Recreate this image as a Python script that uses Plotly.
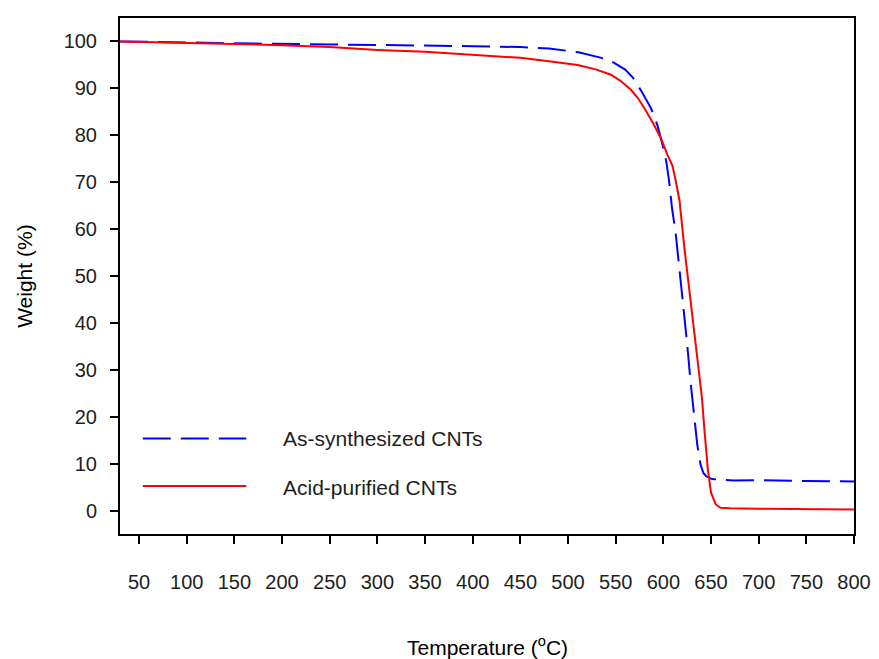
import plotly.graph_objects as go

# As-synthesized CNTs (blue dashed)
temp_as = [30, 50, 100, 150, 200, 250, 300, 350, 400, 450, 480, 511, 535, 548, 560, 568,
           577, 587, 594, 599, 603, 606, 609, 613, 617, 621, 625, 628.5, 632, 635.6, 639,
           642, 645, 651, 674, 700, 750, 800]
weight_as = [100, 99.9, 99.8, 99.6, 99.5, 99.4, 99.3, 99.2, 99.0, 98.8, 98.5, 97.7, 96.5,
             95.5, 94.0, 92.3, 89.4, 85.8, 82.0, 78.1, 74.5, 70.3, 64.6, 59.0, 51.5, 43.5,
             35.5, 27.5, 20.5, 14.0, 9.8, 8.0, 7.3, 6.7, 6.4, 6.5, 6.3, 6.2]

# Acid-purified CNTs (red solid)
temp_ap = [30, 50, 100, 150, 200, 250, 300, 350, 400, 450, 480, 510, 530, 545, 555, 566,
           573, 580, 590, 598, 604, 609.6, 613, 617, 622, 628, 633, 638, 640.5, 643, 646.7,
           650, 655, 660, 670, 700, 750, 800]
weight_ap = [100, 99.9, 99.8, 99.5, 99.2, 98.8, 98.2, 97.8, 97.2, 96.5, 95.8, 95.0, 94.0,
             92.9, 91.6, 89.7, 88.0, 85.8, 82.3, 79.1, 76.0, 73.5, 70.3, 66.0, 56.1, 45.5,
             36.3, 27.8, 24.0, 17.4, 8.7, 3.8, 1.3, 0.6, 0.5, 0.4, 0.3, 0.2]

names = ["As-synthesized CNTs", "Acid-purified CNTs"]
x_ticks = list(range(50, 801, 50))
y_ticks = list(range(0, 101, 10))

FONT = "Liberation Sans, Arial, sans-serif"
TXT = "#1e1e1e"

fig = go.Figure()
fig.add_trace(go.Scatter(x=temp_as, y=weight_as, mode="lines", name=names[0],
                         line=dict(color="#0000ff", width=2, dash="28px,10px"),
                         showlegend=False))
fig.add_trace(go.Scatter(x=temp_ap, y=weight_ap, mode="lines", name=names[1],
                         line=dict(color="#ff0000", width=2),
                         showlegend=False))

axis_common = dict(showline=True, linecolor="black", linewidth=2, mirror=True,
                   ticks="outside", ticklen=8, tickwidth=2, tickcolor="black",
                   showgrid=False, zeroline=False,
                   tickfont=dict(family=FONT, size=20, color=TXT))

fig.update_xaxes(range=[30, 800], tickvals=x_ticks, ticklabelstandoff=21, **axis_common)
fig.update_yaxes(range=[-5, 105], tickvals=y_ticks, ticklabelstandoff=9, **axis_common)

# legend (drawn manually)
fig.add_shape(type="line", xref="paper", yref="paper", x0=0.031, x1=0.172, y0=0.185, y1=0.185,
              line=dict(color="#0000ff", width=2, dash="28px,10px"))
fig.add_shape(type="line", xref="paper", yref="paper", x0=0.031, x1=0.172, y0=0.093, y1=0.093,
              line=dict(color="#ff0000", width=2))
fig.add_annotation(xref="paper", yref="paper", x=0.219, y=0.185, text=names[0], showarrow=False,
                   xanchor="left", yanchor="middle", font=dict(family=FONT, size=21, color=TXT))
fig.add_annotation(xref="paper", yref="paper", x=0.219, y=0.090, text=names[1], showarrow=False,
                   xanchor="left", yanchor="middle", font=dict(family=FONT, size=21, color=TXT))

# axis titles
fig.add_annotation(xref="paper", yref="paper", x=0.5, y=-0.218, text="Temperature (<sup>o</sup>C)",
                   showarrow=False, xanchor="center", yanchor="middle",
                   font=dict(family=FONT, size=21, color="black"))
fig.add_annotation(xref="paper", yref="paper", x=-0.131, y=0.5, text="Weight (%)", textangle=-90,
                   showarrow=False, xanchor="center", yanchor="middle",
                   font=dict(family=FONT, size=21, color="black"))

# page body has an 8px margin: shift the figure so the plot area lands where it should
fig.update_layout(width=871, height=651, margin=dict(l=112, r=17, t=8, b=125),
                  plot_bgcolor="white", paper_bgcolor="white")

fig.write_html("out.html", config={"displayModeBar": False})
